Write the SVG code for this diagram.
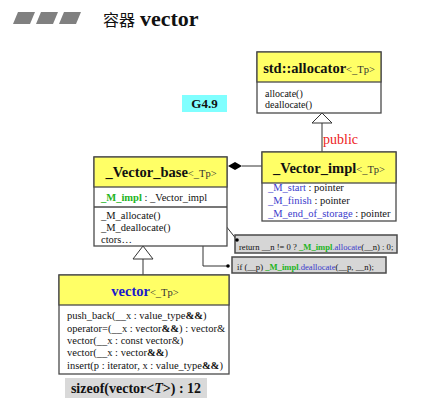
<svg xmlns="http://www.w3.org/2000/svg" width="438" height="402" viewBox="0 0 438 402">
<style>
text{font-family:"Liberation Serif","Noto Sans CJK SC",serif;fill:#111}
.box{fill:#fff;stroke:#4a4a4a;stroke-width:1.3}
.hdr{fill:#ffff66;stroke:#4a4a4a;stroke-width:1.3}
.name{font-weight:bold;font-size:14.5px}
.tp{font-size:10.5px;fill:#333}
.m{font-size:10.5px}
.grn{fill:#22b422;font-weight:bold}
.blu{fill:#3a3acc}
.ln{fill:none;stroke:#333;stroke-width:1}
.tri{fill:#fff;stroke:#333;stroke-width:1}
.call{fill:#d6d6d6;stroke:#4a4a4a;stroke-width:1.5}
.ct{font-size:8.6px}
</style>
<g id="title">
<polygon points="13,24 18,12 35,12 30,24" fill="#808080"/>
<polygon points="36,24 41,12 58,12 53,24" fill="#808080"/>
<polygon points="59,24 64,12 81,12 76,24" fill="#808080"/>
<text x="103" y="26" font-size="16" style="font-family:'Noto Sans CJK SC','Liberation Serif',serif">容器</text>
<text x="140" y="26" font-size="22" font-weight="bold">vector</text>
</g>
<g id="g49">
<rect x="182" y="95" width="45" height="17" fill="#80ffff"/>
<text x="204.5" y="108" font-size="13" font-weight="bold" text-anchor="middle">G4.9</text>
</g>
<g id="connectors">
<polygon class="tri" points="322,113 312,123 332,123"/>
<line class="ln" x1="322" y1="123" x2="322" y2="152"/>
<text x="323" y="144" font-size="14" style="fill:#ee2222">public</text>
<polygon points="228,166 235,162 242,166 235,170" fill="#000"/>
<line class="ln" x1="242" y1="166" x2="262" y2="166"/>
<polygon class="tri" points="143,246 133,259 153,259"/>
<line class="ln" x1="143" y1="259" x2="143" y2="275"/>
<circle cx="173" cy="216" r="1.6" fill="#000"/>
<line x1="173" y1="216" x2="218" y2="216" stroke="#aaa" stroke-width="0.8"/>
<line class="ln" x1="218" y1="216" x2="237" y2="240"/>
<circle cx="237" cy="240" r="1.8" fill="#000"/>
<circle cx="183" cy="225" r="1.8" fill="#000"/>
<polyline class="ln" points="183,225 203,225 203,266 228,266"/>
<circle cx="228" cy="266" r="1.8" fill="#000"/>
</g>
<g id="allocator">
<rect class="box" x="257" y="52" width="124" height="61"/>
<rect class="hdr" x="257" y="52" width="124" height="30"/>
<text x="319" y="73" text-anchor="middle"><tspan class="name">std::allocator</tspan><tspan class="tp">&lt;_Tp&gt;</tspan></text>
<text x="265" y="97" font-size="10">allocate()</text>
<text x="265" y="108" font-size="10">deallocate()</text>
</g>
<g id="vector_impl">
<rect class="box" x="262" y="152" width="134" height="69"/>
<rect class="hdr" x="262" y="152" width="134" height="31"/>
<text x="329" y="173" text-anchor="middle"><tspan class="name">_Vector_impl</tspan><tspan class="tp">&lt;_Tp&gt;</tspan></text>
<text x="268" y="191" class="m"><tspan class="blu">_M_start</tspan> : pointer</text>
<text x="268" y="204" class="m"><tspan class="blu">_M_finish</tspan> : pointer</text>
<text x="268" y="217" class="m"><tspan class="blu">_M_end_of_storage</tspan> : pointer</text>
</g>
<g id="vector_base">
<rect class="box" x="94" y="157" width="133" height="89"/>
<rect class="hdr" x="94" y="157" width="133" height="30"/>
<line class="ln" x1="94" y1="207" x2="227" y2="207" style="stroke:#4a4a4a;stroke-width:1.3"/>
<text x="161" y="177" text-anchor="middle"><tspan class="name">_Vector_base</tspan><tspan class="tp">&lt;_Tp&gt;</tspan></text>
<text x="101" y="201" class="m"><tspan class="grn">_M_impl</tspan> : _Vector_impl</text>
<text x="101" y="219" class="m">_M_allocate()</text>
<text x="101" y="231" class="m">_M_deallocate()</text>
<text x="101" y="243" class="m">ctors…</text>
</g>
<g id="call_allocate">
<rect class="call" x="235" y="235" width="162" height="18"/>
<circle cx="237" cy="240" r="1.8" fill="#000"/>
<text x="239" y="250" class="ct">return __n != 0 ? <tspan class="grn">_M_impl</tspan><tspan class="blu">.allocate</tspan>(__n) : 0;</text>
</g>
<g id="call_deallocate">
<rect class="call" x="232" y="257" width="154" height="16"/>
<text x="237" y="270" class="ct">if (__p)  <tspan class="grn">_M_impl</tspan><tspan class="blu">.deallocate</tspan>(__p, __n);</text>
</g>
<g id="vector">
<rect class="box" x="59" y="275" width="170" height="99"/>
<rect class="hdr" x="59" y="275" width="170" height="30"/>
<text x="145" y="296" text-anchor="middle"><tspan class="name" style="fill:#1a1acc">vector</tspan><tspan class="tp">&lt;_Tp&gt;</tspan></text>
<text x="67" y="319" class="m">push_back(__x : value_type<tspan font-weight="bold">&amp;&amp;</tspan>)</text>
<text x="67" y="331.5" class="m">operator=(__x : vector<tspan font-weight="bold">&amp;&amp;</tspan>) : vector&amp;</text>
<text x="67" y="344" class="m">vector(__x : const vector&amp;)</text>
<text x="67" y="356" class="m">vector(__x : vector<tspan font-weight="bold">&amp;&amp;</tspan>)</text>
<text x="67" y="369" class="m">insert(p : iterator, x : value_type<tspan font-weight="bold">&amp;&amp;</tspan>)</text>
</g>
<g id="sizeof">
<rect x="65" y="378" width="142" height="20" fill="#d9d9d9"/>
<text x="136" y="393" font-size="14" font-weight="bold" text-anchor="middle">sizeof(vector&lt;<tspan font-style="italic">T</tspan>&gt;) : 12</text>
</g>
</svg>
